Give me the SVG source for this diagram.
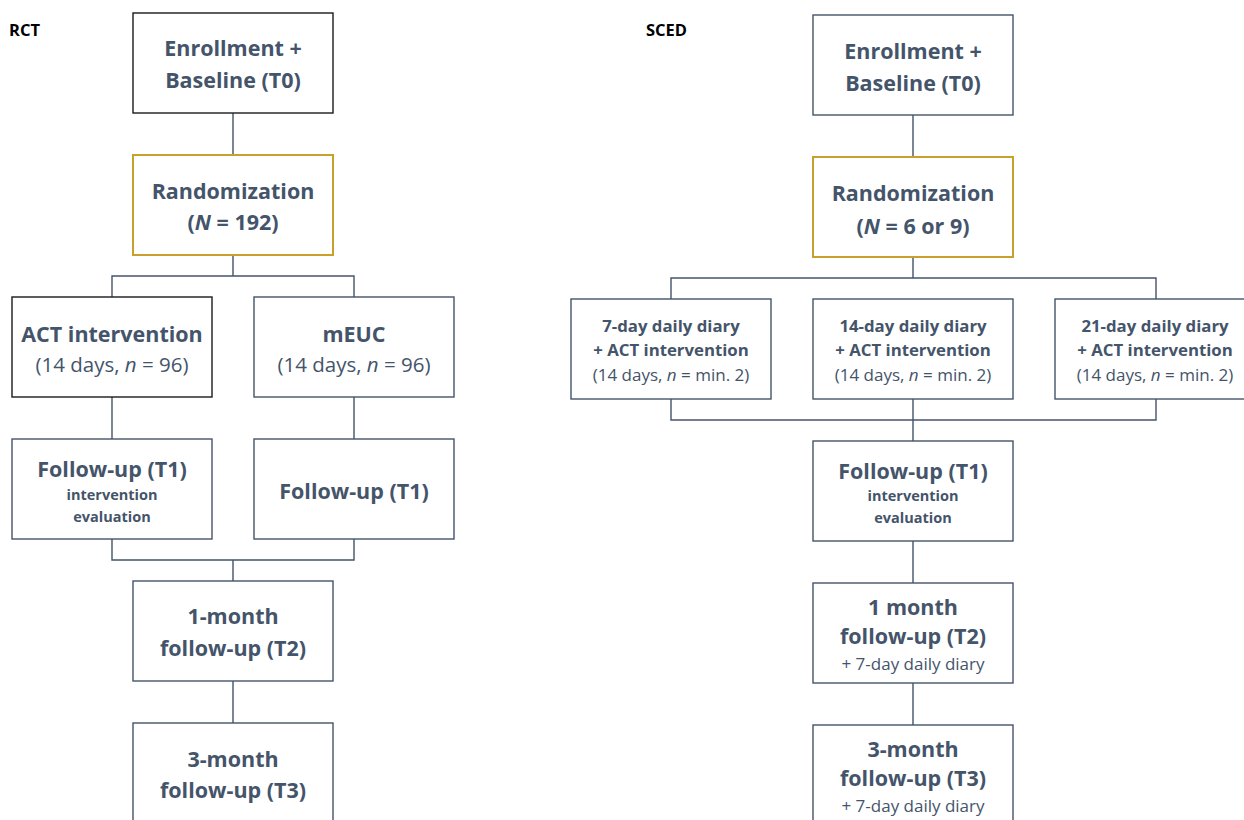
<svg xmlns="http://www.w3.org/2000/svg" width="1244" height="820" viewBox="0 0 1244 820">
<style>
.box{fill:#fff;stroke:#44546A;stroke-width:1.4}
.dark{stroke:#1a1a1a}
.gold{stroke:#C9A02C;stroke-width:2}
.ln{fill:none;stroke:#44546A;stroke-width:1.4}
text{font-family:"Open Sans","Noto Sans",sans-serif;fill:#44546A;text-anchor:middle}
.h{font-size:21.5px;font-weight:bold}
.r{font-size:20.5px}
.s{font-size:14.5px;font-weight:bold}
.m{font-size:16.8px;font-weight:bold}
.mr{font-size:17px}
.lab{font-size:16.5px;font-weight:bold;fill:#000;text-anchor:start}
</style>
<rect width="1244" height="820" fill="#fff"/>
<text class="lab" x="9" y="36">RCT</text>
<text class="lab" x="646" y="36">SCED</text>
<g id="connectors">
<path class="ln" d="M233 113V155M233 255V276M112 297V276H354V297M112 397V439M354 397V439M112 539V560H354V539M233 560V581M233 681V723"/>
<path class="ln" d="M913 115V157M913 257V278M671 299V278H1156V299M671 399V420H1156V399M913 399V441M913 541V583M913 683V725"/>
</g>
<g id="rct-enroll"><rect class="box dark" x="133" y="13" width="200" height="100"/><text class="h" x="233" y="56">Enrollment +</text><text class="h" x="233" y="88">Baseline (T0)</text></g>
<g id="rct-random"><rect class="box gold" x="133" y="155" width="200" height="100"/><text class="h" x="233" y="199">Randomization</text><text class="h" x="233" y="230">(<tspan font-style="italic">N</tspan> = 192)</text></g>
<g id="rct-act"><rect class="box dark" x="12" y="297" width="200" height="100"/><text class="h" x="112" y="342">ACT intervention</text><text class="r" x="112" y="372">(14 days, <tspan font-style="italic">n</tspan> = 96)</text></g>
<g id="rct-meuc"><rect class="box" x="254" y="297" width="200" height="100"/><text class="h" x="354" y="342">mEUC</text><text class="r" x="354" y="372">(14 days, <tspan font-style="italic">n</tspan> = 96)</text></g>
<g id="rct-t1a"><rect class="box" x="12" y="439" width="200" height="100"/><text class="h" x="112" y="477">Follow-up (T1)</text><text class="s" x="112" y="500">intervention</text><text class="s" x="112" y="522">evaluation</text></g>
<g id="rct-t1b"><rect class="box" x="254" y="439" width="200" height="100"/><text class="h" x="354" y="499">Follow-up (T1)</text></g>
<g id="rct-t2"><rect class="box" x="133" y="581" width="200" height="100"/><text class="h" x="233" y="624">1-month</text><text class="h" x="233" y="656">follow-up (T2)</text></g>
<g id="rct-t3"><rect class="box" x="133" y="723" width="200" height="100"/><text class="h" x="233" y="767">3-month</text><text class="h" x="233" y="798">follow-up (T3)</text></g>
<g id="sced-enroll"><rect class="box" x="813" y="15" width="200" height="100"/><text class="h" x="913" y="59">Enrollment +</text><text class="h" x="913" y="91">Baseline (T0)</text></g>
<g id="sced-random"><rect class="box gold" x="813" y="157" width="200" height="100"/><text class="h" x="913" y="201">Randomization</text><text class="h" x="913" y="234">(<tspan font-style="italic">N</tspan> = 6 or 9)</text></g>
<g id="sced-7"><rect class="box" x="571" y="299" width="200" height="100"/><text class="m" x="671" y="332">7-day daily diary</text><text class="m" x="671" y="356">+ ACT intervention</text><text class="mr" x="671" y="381">(14 days, <tspan font-style="italic">n</tspan> = min. 2)</text></g>
<g id="sced-14"><rect class="box" x="813" y="299" width="200" height="100"/><text class="m" x="913" y="332">14-day daily diary</text><text class="m" x="913" y="356">+ ACT intervention</text><text class="mr" x="913" y="381">(14 days, <tspan font-style="italic">n</tspan> = min. 2)</text></g>
<g id="sced-21"><rect class="box" x="1055" y="299" width="200" height="100"/><text class="m" x="1155" y="332">21-day daily diary</text><text class="m" x="1155" y="356">+ ACT intervention</text><text class="mr" x="1155" y="381">(14 days, <tspan font-style="italic">n</tspan> = min. 2)</text></g>
<g id="sced-t1"><rect class="box" x="813" y="441" width="200" height="100"/><text class="h" x="913" y="479">Follow-up (T1)</text><text class="s" x="913" y="501">intervention</text><text class="s" x="913" y="523">evaluation</text></g>
<g id="sced-t2"><rect class="box" x="813" y="583" width="200" height="100"/><text class="h" x="913" y="615">1 month</text><text class="h" x="913" y="644">follow-up (T2)</text><text class="mr" x="913" y="670">+ 7-day daily diary</text></g>
<g id="sced-t3"><rect class="box" x="813" y="725" width="200" height="100"/><text class="h" x="913" y="757">3-month</text><text class="h" x="913" y="786">follow-up (T3)</text><text class="mr" x="913" y="812">+ 7-day daily diary</text></g>
</svg>
